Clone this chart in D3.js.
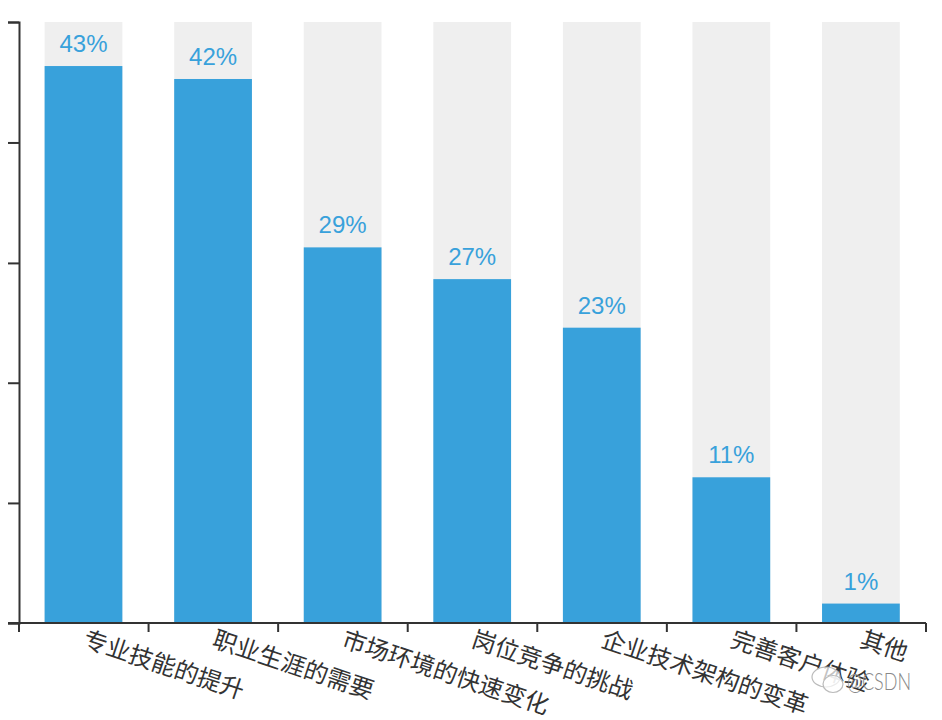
<!DOCTYPE html>
<html><head><meta charset="utf-8">
<style>html,body{margin:0;padding:0;background:#fff}svg{display:block}</style>
<script src="https://cdn.jsdelivr.net/npm/d3@7/dist/d3.min.js"></script>
</head><body><svg id="c" width="942" height="720"></svg>
<script>
const categories=["专业技能的提升","职业生涯的需要","市场环境的快速变化","岗位竞争的挑战","企业技术架构的变革","完善客户体验","其他"];
const barValues=[43,42,29,26.55,22.8,11.25,1.5];
const labels=["43%","42%","29%","27%","23%","11%","1%"];
const axisMax=46.4;
const yTicks=[0,9.27,18.55,27.8,37.1,46.4];

const svg=d3.select("#c");
const x=d3.scaleBand().domain(categories).range([18.7,925.7]).paddingInner(0.4).paddingOuter(0.2);
const y=d3.scaleLinear().domain([0,axisMax]).range([623,22]);
const ink="#333",blue="#38a1db";

svg.selectAll("rect.bg").data(categories).join("rect").attr("class","bg")
 .attr("x",d=>x(d)).attr("width",x.bandwidth()).attr("y",y(axisMax)).attr("height",y(0)-y(axisMax)).attr("fill","#efefef");
svg.selectAll("rect.bar").data(barValues).join("rect").attr("class","bar")
 .attr("x",(d,i)=>x(categories[i])).attr("width",x.bandwidth()).attr("y",d=>y(d)).attr("height",d=>y(0)-y(d)).attr("fill",blue);
svg.selectAll("text.val").data(barValues).join("text").attr("class","val")
 .attr("x",(d,i)=>x(categories[i])+x.bandwidth()/2).attr("y",d=>y(d)-14).attr("text-anchor","middle")
 .attr("font-family","'Liberation Sans',Arial,sans-serif").attr("font-size",24).attr("fill",blue).text((d,i)=>labels[i]);

const gy=svg.append("g").attr("transform","translate(19,0)")
 .call(d3.axisLeft(y).tickValues(yTicks).tickSize(11).tickFormat(""));
const tickX=d3.range(categories.length+1).map(i=>19+i*(907/categories.length));
svg.append("g").selectAll("line").data(tickX).join("line")
 .attr("x1",d=>d).attr("x2",d=>d).attr("y1",623).attr("y2",632).attr("stroke",ink).attr("stroke-width",2);
svg.append("line").attr("x1",8).attr("x2",926).attr("y1",623).attr("y2",623).attr("stroke",ink).attr("stroke-width",2);
gy.selectAll("path,line").attr("stroke",ink).attr("stroke-width",2);

svg.selectAll("text.cat").data(categories).join("text").attr("class","cat")
 .attr("transform",d=>`translate(${x(d)+x.bandwidth()/2},640) rotate(18.5)`)
 .attr("font-family","'Noto Sans CJK SC',sans-serif").attr("font-size",24).attr("fill",ink).attr("dominant-baseline","middle").text(d=>d);

const wm=svg.append("g").attr("fill","#fff").attr("fill-opacity",.7).attr("stroke","#bbb").attr("stroke-width",1.2);
wm.append("ellipse").attr("cx",826).attr("cy",677).attr("rx",14).attr("ry",10);
wm.append("ellipse").attr("cx",833).attr("cy",684).attr("rx",10).attr("ry",8.5);
svg.append("text").attr("x",847).attr("y",690).attr("font-family","Lato,sans-serif").attr("font-weight",300).attr("font-size",23).attr("fill","#888").attr("textLength",64).attr("lengthAdjust","spacingAndGlyphs").text("@CSDN");
</script></body></html>
